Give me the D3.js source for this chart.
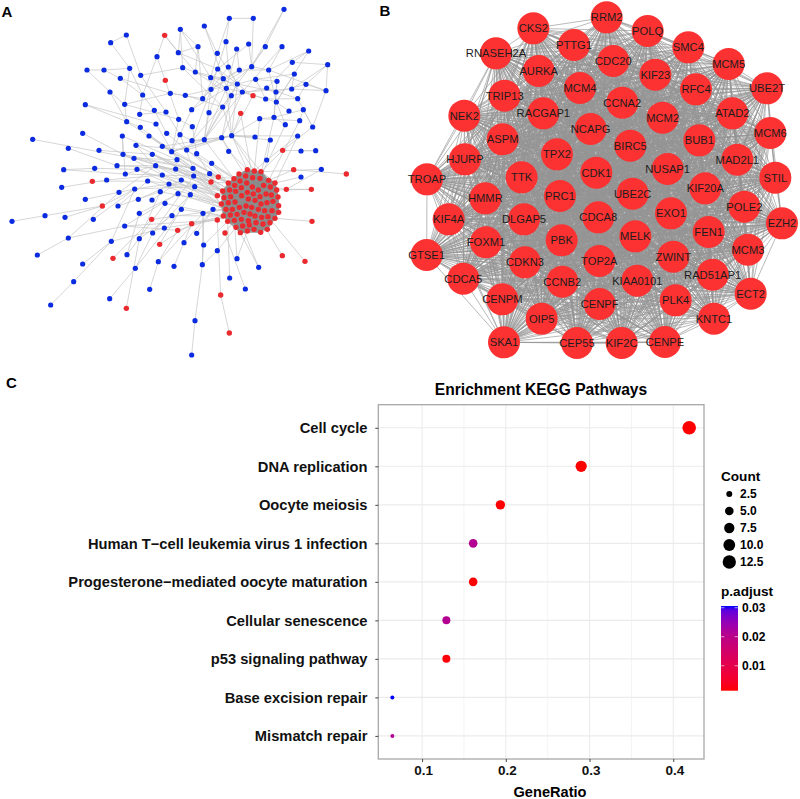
<!DOCTYPE html>
<html lang="en">
	<head>
		<meta charset="utf-8">
		<title>PPI networks and KEGG enrichment</title>
		<script type="text/javascript" src="https://cdn.jsdelivr.net/npm/d3@7"></script>
		<style type="text/css">
			html, body { margin: 0; padding: 0; background: #fff; }
			svg { display: block; }
			text { font-family: "Liberation Sans", Arial, sans-serif; }
		</style>
	</head>
	<body>
		<script type="text/javascript">
			//Network A in layout units (1/3 px)
			var blueNodes = [[852,28],[688,55],[760,55],[613,78],[541,88],[379,105],[332,128],[678,125],[746,132],[594,140],[710,147],[796,140],[846,140],[535,158],[652,160],[471,170],[926,153],[877,187],[983,194],[261,210],[312,210],[389,205],[548,203],[586,216],[653,207],[685,201],[718,210],[755,200],[806,210],[883,222],[422,226],[361,235],[632,233],[670,236],[767,238],[831,244],[712,252],[918,253],[633,268],[679,265],[800,264],[828,276],[875,267],[978,272],[330,276],[428,285],[511,280],[556,286],[608,296],[694,287],[727,276],[797,297],[829,306],[893,296],[256,314],[374,313],[668,321],[575,329],[463,331],[498,336],[627,338],[419,343],[867,333],[910,329],[536,358],[779,356],[822,352],[899,362],[380,365],[468,372],[421,382],[577,380],[856,374],[938,381],[248,400],[367,408],[447,408],[500,400],[540,404],[695,407],[665,413],[613,419],[576,422],[765,411],[811,420],[893,408],[98,418],[205,445],[408,436],[487,439],[297,451],[560,450],[515,455],[686,454],[903,453],[947,452],[369,463],[457,463],[590,461],[402,475],[531,479],[800,480],[635,490],[351,497],[467,497],[191,509],[284,505],[411,508],[527,507],[579,505],[376,522],[487,525],[629,521],[964,508],[903,531],[581,528],[320,540],[443,543],[544,540],[507,552],[584,560],[185,562],[404,567],[357,577],[481,575],[534,581],[571,584],[256,598],[415,598],[456,600],[495,610],[354,618],[544,628],[639,628],[418,640],[609,640],[516,647],[135,647],[195,652],[280,658],[36,664],[374,678],[493,684],[458,699],[590,700],[205,714],[418,716],[334,724],[552,728],[611,735],[652,752],[112,765],[381,764],[711,776],[248,792],[475,785],[522,799],[607,794],[406,805],[776,802],[689,834],[221,845],[449,868],[736,867],[329,896],[152,915],[585,962],[575,1065]];
			var redNodes = [[494,106],[496,241],[759,287],[722,340],[848,451],[881,509],[1039,522],[655,531],[633,546],[277,544],[934,568],[859,568],[652,587],[307,618],[652,660],[455,658],[936,664],[575,671],[533,691],[675,699],[479,733],[847,767],[339,775],[915,784],[662,885],[379,925],[688,999]];
			var clusterNodes = [[742,509],[763,513],[783,515],[717,522],[737,528],[758,533],[780,535],[806,541],[825,549],[685,549],[702,536],[720,543],[740,549],[704,556],[689,570],[724,563],[757,561],[775,570],[791,556],[811,561],[830,570],[668,573],[742,577],[707,574],[725,587],[760,582],[780,590],[798,582],[814,585],[834,591],[672,593],[692,590],[745,597],[705,606],[685,608],[664,612],[765,601],[783,612],[801,608],[819,604],[836,617],[678,628],[697,628],[718,622],[738,618],[755,622],[775,628],[794,632],[816,632],[836,637],[670,648],[691,645],[711,643],[732,637],[750,642],[765,648],[785,652],[804,650],[825,655],[683,664],[703,661],[724,658],[745,662],[768,668],[789,672],[810,668],[708,682],[728,678],[748,675],[762,688],[782,697],[802,688],[721,698],[742,693]];
			var linksA = [
				[852,28,796,140],[852,28,755,200],[688,55,760,55],[688,55,652,160],[688,55,678,125],[760,55,755,200],[613,78,652,160],[613,78,670,236],[541,88,548,203],[541,88,594,140],[541,88,535,158],[541,88,632,233],[379,105,422,226],[332,128,379,105],[332,128,389,205],[494,106,535,158],[494,106,471,170],[494,106,586,216],[471,170,428,285],[471,170,536,358],[594,140,586,216],[535,158,594,140],[535,158,653,207],[678,125,685,201],[678,125,633,268],[746,132,755,200],[746,132,653,207],[710,147,718,210],[710,147,679,265],[796,140,755,200],[796,140,712,252],[846,140,806,210],[846,140,727,276],[652,160,632,233],[652,160,712,252],[594,140,608,296],
				[926,153,829,306],[926,153,806,210],[926,153,877,187],[877,187,800,264],[877,187,983,194],[983,194,978,272],[983,194,875,267],[983,194,918,253],[918,253,978,272],[918,253,828,276],[918,253,893,296],[978,272,938,381],[978,272,806,210],[883,222,829,306],[883,222,767,238],[883,222,875,267],[875,267,727,276],[875,267,978,272],[893,296,797,297],[893,296,800,264],[910,329,899,362],[910,329,938,381],[910,329,822,352],[867,333,829,306],[899,362,779,356],[938,381,893,296],[856,374,829,306],[856,374,822,352],[822,352,779,356],[822,352,831,244],[779,356,695,407],[806,210,718,210],[806,210,755,200],[806,210,829,306],[831,244,767,238],[831,244,822,352],[800,264,694,287],[828,276,712,252],[797,297,727,276],[829,306,727,276],[767,238,712,252],[767,238,797,297],
				[261,210,312,210],[261,210,330,276],[312,210,389,205],[312,210,361,235],[389,205,374,313],[389,205,428,285],[422,226,548,203],[422,226,498,336],[361,235,428,285],[361,235,511,280],[330,276,374,313],[330,276,380,365],[428,285,463,331],[428,285,419,343],[511,280,556,286],[511,280,608,296],[511,280,374,313],[548,203,632,233],[548,203,668,321],[586,216,670,236],[586,216,694,287],[556,286,633,268],[556,286,668,321],[608,296,633,268],[608,296,653,207],[374,313,380,365],[374,313,536,358],[256,314,380,365],[256,314,468,372],[419,343,498,336],[463,331,500,400],[498,336,540,404],[536,358,577,380],[536,358,515,455],[575,329,633,268],[575,329,515,455],[575,329,679,265],[627,338,670,236],[627,338,613,419],[668,321,695,407],[668,321,613,419],[668,321,712,252],[380,365,421,382],[380,365,515,455],[421,382,515,455],[468,372,531,479],[577,380,590,461],[447,408,515,455],[500,400,560,450],[540,404,576,422],[540,404,579,505],[367,408,376,522],[367,408,369,463],[367,408,531,479],[408,436,487,525],[408,436,560,450],[487,439,579,505],[487,439,613,419],
				[632,233,670,236],[632,233,712,252],[632,233,679,265],[653,207,712,252],[653,207,670,236],[685,201,633,268],[685,201,712,252],[718,210,670,236],[718,210,633,268],[755,200,679,265],[755,200,633,268],[670,236,727,276],[670,236,694,287],[712,252,633,268],[712,252,694,287],[679,265,727,276],[679,265,613,419],[633,268,613,419],[694,287,613,419],[694,287,665,413],[727,276,613,419],[727,276,665,413],[694,287,576,422],[633,268,576,422],[712,252,695,407],[679,265,695,407],[759,287,695,407],[759,287,712,252],[722,340,758,533],[722,340,695,407],[695,407,665,413],[695,407,613,419],[665,413,576,422],[613,419,576,422],[613,419,515,455],[665,413,515,455],[695,407,515,455],[695,407,560,450],[686,454,665,413],[765,411,695,407],[811,420,695,407],[893,408,695,407],[811,420,800,480],
				[98,418,402,475],[205,445,351,497],[248,400,369,463],[297,451,457,463],[191,509,284,505],[284,505,411,508],[191,509,376,522],[185,562,320,540],[277,544,443,543],[320,540,487,525],[256,598,404,567],[135,647,307,618],[36,664,135,647],[195,652,307,618],[307,618,404,567],[280,658,404,567],[354,618,481,575],[354,618,443,543],[357,577,467,497],[205,714,357,577],[112,765,205,714],[205,714,374,678],[248,792,334,724],[221,845,334,724],[334,724,493,684],[334,724,404,567],[152,915,221,845],[339,775,455,658],[329,896,406,805],[406,805,458,699],[406,805,544,628],[379,925,418,716],[449,868,475,785],[475,785,533,691],[381,764,418,640],[381,764,495,610],[522,799,575,671],[585,962,607,794],[575,1065,585,962],[607,794,652,752],[607,794,611,735],[607,794,609,640],[475,785,609,640],[418,716,516,647],[418,716,481,575],[479,733,575,671],[479,733,584,560],[552,728,639,628],[374,678,534,581],[374,678,533,691],[493,684,652,660],[458,699,571,584],[458,699,581,528],[590,700,639,628],[611,735,609,640],[611,735,683,664],[652,752,708,682],[418,640,534,581],[415,598,544,540],[456,600,544,540],[404,567,507,552],[404,567,584,560],[351,497,467,497],[351,497,527,507],[369,463,487,525],[369,463,579,505],[402,475,531,479],[402,475,579,505],[411,508,507,552],[376,522,467,497],[376,522,581,528],[443,543,584,560],[457,463,581,528],[467,497,584,560],
				[688,999,662,885],[662,885,652,660],[736,867,675,699],[689,834,683,664],[776,802,711,643],[776,802,721,698],[711,776,703,661],[711,776,742,693],[847,767,789,672],[915,784,804,650],[936,664,825,655],[934,568,830,570],[859,568,811,561],[859,568,934,568],[1039,522,881,509],[964,508,783,515],[881,509,806,541],[903,531,825,549],[947,452,903,453],[848,451,947,452],[848,451,783,515],[893,408,800,480],[893,408,825,549],[899,362,806,541],[856,374,780,535],[800,480,763,513],[938,381,848,451],[964,508,859,568],[686,454,742,509],[695,407,742,509],[695,407,763,513],[695,407,783,515],[665,413,737,528],[779,356,763,513],[822,352,780,535],[613,419,702,536],[635,490,685,549],
				[515,455,685,549],[515,455,668,573],[515,455,704,556],[531,479,689,570],[531,479,668,573],[560,450,685,549],[560,450,702,536],[590,461,720,543],[590,461,672,593],[579,505,668,573],[579,505,689,570],[579,505,664,612],[581,528,668,573],[581,528,664,612],[527,507,668,573],[527,507,672,593],[487,525,668,573],[487,525,664,612],[544,540,664,612],[544,540,672,593],[507,552,652,587],[507,552,664,612],[584,560,668,573],[584,560,692,590],[629,521,685,549],[629,521,668,573],[635,490,702,536],[457,463,668,573],[457,463,685,549],[402,475,633,546],[467,497,655,531],[467,497,668,573],[411,508,652,587],[443,543,664,612],[481,575,664,612],[534,581,678,628],[571,584,678,628],[495,610,670,648],[544,628,670,648],[609,640,678,628],[639,628,697,628],[516,647,670,648],[374,678,652,660],[455,658,678,628],[575,671,670,648],[533,691,670,648],[652,660,691,645],[652,587,689,570],[633,546,685,549],[655,531,702,536],[675,699,703,661],[408,436,633,546],[447,408,655,531],[369,463,633,546]
			];

			//Network B, one name and one position per gene
			var geneNames = ["RRM2","POLQ","CKS2","PTTG1","SMC4","CDC20","RNASEH2A","AURKA","KIF23","MCM5","MCM4","RFC4","UBE2T","TRIP13","CCNA2","RACGAP1","ATAD2","NEK2","MCM2","NCAPG","MCM6","ASPM","BUB1","BIRC5","TPX2","HJURP","MAD2L1","CDK1","NUSAP1","TTK","STIL","TROAP","KIF20A","UBE2C","PRC1","HMMR","POLE2","EXO1","DLGAP5","CDCA8","KIF4A","EZH2","FEN1","MELK","PBK","FOXM1","MCM3","GTSE1","ZWINT","TOP2A","CDKN3","CDCA5","RAD51AP1","CCNB2","KIAA0101","ECT2","CENPM","PLK4","CENPF","OIP5","KNTC1","SKA1","CEP55","KIF2C","CENPE"];
			var genePositions = [[620,52],[743,93],[400,85],[522,135],[865,142],[640,183],[288,160],[416,213],[766,224],[986,192],[540,264],[888,268],[1101,265],[314,287],[667,308],[430,340],[997,340],[193,347],[788,353],[572,387],[1111,399],[308,418],[898,421],[691,437],[471,463],[195,478],[1012,479],[589,518],[803,507],[365,532],[1126,533],[81,538],[916,565],[698,581],[480,588],[256,595],[1033,620],[813,640],[372,658],[595,652],[146,658],[1146,670],[926,696],[706,709],[485,721],[258,727],[1044,749],[80,765],[820,770],[598,783],[375,787],[190,836],[938,824],[487,845],[712,842],[1052,881],[307,898],[827,901],[599,912],[425,956],[942,956],[312,1027],[531,1029],[665,1029],[795,1026]];

			//Panel C
			var pathways = ["Cell cycle","DNA replication","Oocyte meiosis","Human T\u2212cell leukemia virus 1 infection","Progesterone\u2212mediated oocyte maturation","Cellular senescence","p53 signaling pathway","Base excision repair","Mismatch repair"];
			var geneRatio = [0.419,0.29,0.1935,0.161,0.161,0.129,0.129,0.0645,0.0645];
			var geneCount = [13,9,6,5,5,4,4,2,2];
			var pAdjust = [0.0014,0.0014,0.0015,0.021,0.0016,0.021,0.0017,0.0306,0.021];
			var ratioTicks = [0.1,0.2,0.3,0.4];
			var ratioMinor = [0.15,0.25,0.35];
			var countTicks = [2.5,5,7.5,10,12.5];
			var pTicks = [0.01,0.02,0.03];
			//colour bar
			var pStops = [0.0014,0.01,0.02,0.029,0.0306];
			var pColours = ["#ff0000","#e6004a","#bb0088","#5f00dd","#0000ff"];

			var w = 800;
			var h = 799;

			var svg = d3.select("body")
						.append("svg")
						.attr("width", w)
						.attr("height", h);

			//Panel letters
			svg.selectAll("text.letter")
			   .data([["A",1.5,17.3],["B",379.5,15.5],["C",6,387.5]])
			   .enter()
			   .append("text")
			   .attr("class", "letter")
			   .attr("x", function(d) { return d[1]; })
			   .attr("y", function(d) { return d[2]; })
			   .style("font-size", "15px")
			   .style("font-weight", "bold")
			   .text(function(d) { return d[0]; });

			//Panel A: network
			var ax = d3.scaleLinear().domain([0,1140]).range([0,380]);
			var ay = d3.scaleLinear().domain([0,1110]).range([0,370]);

			var clusterLinks = [];
			clusterNodes.forEach(function(a, i) {
				clusterNodes.slice(i + 1).forEach(function(b) {
					clusterLinks.push([a[0],a[1],b[0],b[1]]);
				});
			});

			var gA = svg.append("g");

			gA.selectAll("line.a")
			  .data(linksA.concat(clusterLinks))
			  .enter()
			  .append("line")
			  .attr("class", "a")
			  .attr("x1", function(d) { return ax(d[0]); })
			  .attr("y1", function(d) { return ay(d[1]); })
			  .attr("x2", function(d) { return ax(d[2]); })
			  .attr("y2", function(d) { return ay(d[3]); })
			  .style("stroke", function(d, i) { return i < linksA.length ? "#c4c4c4" : "#8c8c8c"; })
			  .style("stroke-width", 0.7);

			gA.selectAll("circle.blue")
			  .data(blueNodes)
			  .enter()
			  .append("circle")
			  .attr("class", "blue")
			  .attr("cx", function(d) { return ax(d[0]); })
			  .attr("cy", function(d) { return ay(d[1]); })
			  .attr("r", 2.6)
			  .style("fill", "#0a2be0");

			gA.selectAll("circle.red")
			  .data(redNodes.concat(clusterNodes))
			  .enter()
			  .append("circle")
			  .attr("class", "red")
			  .attr("cx", function(d) { return ax(d[0]); })
			  .attr("cy", function(d) { return ay(d[1]); })
			  .attr("r", 2.7)
			  .style("fill", "#ea2a2e");

			//Panel B: network, every gene linked with the others
			var bx = d3.scaleLinear().domain([0,1200]).range([400,800]);
			var by = d3.scaleLinear().domain([0,1110]).range([0,370]);

			var geneLinks = [];
			genePositions.forEach(function(a, i) {
				genePositions.slice(i + 1).forEach(function(b) {
					geneLinks.push([a,b]);
				});
			});

			var gB = svg.append("g");

			gB.selectAll("line")
			  .data(geneLinks)
			  .enter()
			  .append("line")
			  .attr("x1", function(d) { return bx(d[0][0]); })
			  .attr("y1", function(d) { return by(d[0][1]); })
			  .attr("x2", function(d) { return bx(d[1][0]); })
			  .attr("y2", function(d) { return by(d[1][1]); })
			  .style("stroke", "#949494")
			  .style("stroke-width", 0.65);

			gB.selectAll("circle")
			  .data(genePositions)
			  .enter()
			  .append("circle")
			  .attr("cx", function(d) { return bx(d[0]); })
			  .attr("cy", function(d) { return by(d[1]); })
			  .attr("r", 16)
			  .style("fill", "#fc3232");

			gB.selectAll("text")
			  .data(genePositions)
			  .enter()
			  .append("text")
			  .attr("x", function(d) { return bx(d[0]); })
			  .attr("y", function(d) { return by(d[1]) + 4; })
			  .attr("text-anchor", "middle")
			  .style("font-size", "11.2px")
			  .style("fill", "#1c1c1c")
			  .text(function(d, i) { return geneNames[i]; });

			//Panel C: dot plot
			var plotLeft = 378.3, plotRight = 704, plotTop = 404.7, plotBottom = 759;

			var x = d3.scaleLinear().domain([0.0477,0.4367]).range([plotLeft,plotRight]);
			var y = d3.scalePoint().domain(pathways).range([plotTop,plotBottom]).padding(0.6);
			var size = d3.scaleLinear().domain([2,2.5,4,5,6,9,10,13]).range([2,3,4,4.3,4.7,5.6,5.9,6.8]);
			var colour = d3.scaleLinear().domain(pStops).range(pColours).interpolate(d3.interpolateLab);

			var gC = svg.append("g");

			gC.selectAll("line.minor")
			  .data(ratioMinor)
			  .enter()
			  .append("line")
			  .attr("class", "minor")
			  .attr("x1", function(d) { return x(d); })
			  .attr("x2", function(d) { return x(d); })
			  .attr("y1", plotTop)
			  .attr("y2", plotBottom)
			  .style("stroke", "#efefef")
			  .style("stroke-width", 0.7);

			gC.selectAll("line.major")
			  .data(ratioTicks)
			  .enter()
			  .append("line")
			  .attr("class", "major")
			  .attr("x1", function(d) { return x(d); })
			  .attr("x2", function(d) { return x(d); })
			  .attr("y1", plotTop)
			  .attr("y2", plotBottom)
			  .style("stroke", "#ebebeb")
			  .style("stroke-width", 1.1);

			gC.selectAll("line.row")
			  .data(pathways)
			  .enter()
			  .append("line")
			  .attr("class", "row")
			  .attr("x1", plotLeft)
			  .attr("x2", plotRight)
			  .attr("y1", function(d) { return y(d); })
			  .attr("y2", function(d) { return y(d); })
			  .style("stroke", "#ebebeb")
			  .style("stroke-width", 1.1);

			gC.selectAll("circle")
			  .data(pathways)
			  .enter()
			  .append("circle")
			  .attr("cx", function(d, i) { return x(geneRatio[i]); })
			  .attr("cy", function(d) { return y(d); })
			  .attr("r", function(d, i) { return size(geneCount[i]); })
			  .style("fill", function(d, i) { return colour(pAdjust[i]); });

			gC.append("rect")
			  .attr("x", plotLeft)
			  .attr("y", plotTop)
			  .attr("width", plotRight - plotLeft)
			  .attr("height", plotBottom - plotTop)
			  .style("fill", "none")
			  .style("stroke", "#a8a8a8")
			  .style("stroke-width", 1.3);

			var xAxis = gC.append("g")
						  .attr("transform", "translate(0," + plotBottom + ")")
						  .call(d3.axisBottom(x).tickValues(ratioTicks).tickSize(3).tickFormat(d3.format(".1f")));
			xAxis.select(".domain").remove();
			xAxis.selectAll("line").style("stroke", "#444");
			xAxis.selectAll("text")
				 .attr("dy", null)
				 .attr("y", 16)
				 .attr("x", 1)
				 .style("font-size", "13.5px")
				 .style("font-weight", "bold")
				 .style("fill", "#111");

			var yAxis = gC.append("g")
						  .attr("transform", "translate(" + plotLeft + ",0)")
						  .call(d3.axisLeft(y).tickSize(3).tickPadding(7.8));
			yAxis.select(".domain").remove();
			yAxis.selectAll("line").style("stroke", "#444");
			yAxis.selectAll("text")
				 .style("font-size", "14.7px")
				 .style("font-weight", "bold")
				 .style("fill", "#111");

			gC.append("text")
			  .attr("x", 541)
			  .attr("y", 395)
			  .attr("text-anchor", "middle")
			  .style("font-size", "15.6px")
			  .style("font-weight", "bold")
			  .text("Enrichment KEGG Pathways");

			gC.append("text")
			  .attr("x", 550)
			  .attr("y", 796.5)
			  .attr("text-anchor", "middle")
			  .style("font-size", "14.6px")
			  .style("font-weight", "bold")
			  .text("GeneRatio");

			//Count legend
			var gLegend = svg.append("g");
			var legendY = d3.scalePoint().domain(countTicks).range([494,562]);

			gLegend.append("text")
				   .attr("x", 721)
				   .attr("y", 481)
				   .style("font-size", "13.6px")
				   .style("font-weight", "bold")
				   .text("Count");

			gLegend.selectAll("circle")
				   .data(countTicks)
				   .enter()
				   .append("circle")
				   .attr("cx", 729.3)
				   .attr("cy", function(d) { return legendY(d); })
				   .attr("r", function(d) { return size(d); })
				   .style("fill", "#000");

			gLegend.selectAll("text.count")
				   .data(countTicks)
				   .enter()
				   .append("text")
				   .attr("class", "count")
				   .attr("x", 740)
				   .attr("y", function(d) { return legendY(d) + 4; })
				   .style("font-size", "12px")
				   .style("font-weight", "bold")
				   .text(function(d) { return d3.format(".1f")(d); });

			//p.adjust colour bar
			var barY = d3.scaleLinear().domain([0.0014,0.0306]).range([690.7,606]);

			var gradient = svg.append("defs")
							  .append("linearGradient")
							  .attr("id", "pbar")
							  .attr("x1", 0).attr("x2", 0)
							  .attr("y1", 1).attr("y2", 0);

			gradient.selectAll("stop")
					.data(d3.range(0, 1.01, 0.05))
					.enter()
					.append("stop")
					.attr("offset", function(d) { return d; })
					.attr("stop-color", function(d) { return colour(0.0014 + d * 0.0292); });

			gLegend.append("text")
				   .attr("x", 721)
				   .attr("y", 595.5)
				   .style("font-size", "13.6px")
				   .style("font-weight", "bold")
				   .text("p.adjust");

			gLegend.append("rect")
				   .attr("x", 721)
				   .attr("y", 606)
				   .attr("width", 17)
				   .attr("height", 84.7)
				   .style("fill", "url(#pbar)");

			gLegend.selectAll("line.l")
				   .data(pTicks)
				   .enter()
				   .append("line")
				   .attr("class", "l")
				   .attr("x1", 721)
				   .attr("x2", 724.4)
				   .attr("y1", function(d) { return barY(d); })
				   .attr("y2", function(d) { return barY(d); })
				   .style("stroke", "#fff")
				   .style("stroke-width", 0.6);

			gLegend.selectAll("line.r")
				   .data(pTicks)
				   .enter()
				   .append("line")
				   .attr("class", "r")
				   .attr("x1", 734.6)
				   .attr("x2", 738)
				   .attr("y1", function(d) { return barY(d); })
				   .attr("y2", function(d) { return barY(d); })
				   .style("stroke", "#fff")
				   .style("stroke-width", 0.6);

			gLegend.selectAll("text.p")
				   .data(pTicks)
				   .enter()
				   .append("text")
				   .attr("class", "p")
				   .attr("x", 742)
				   .attr("y", function(d) { return barY(d) + 4; })
				   .style("font-size", "12px")
				   .style("font-weight", "bold")
				   .text(function(d) { return d3.format(".2f")(d); });

		</script>
	</body>
</html>
